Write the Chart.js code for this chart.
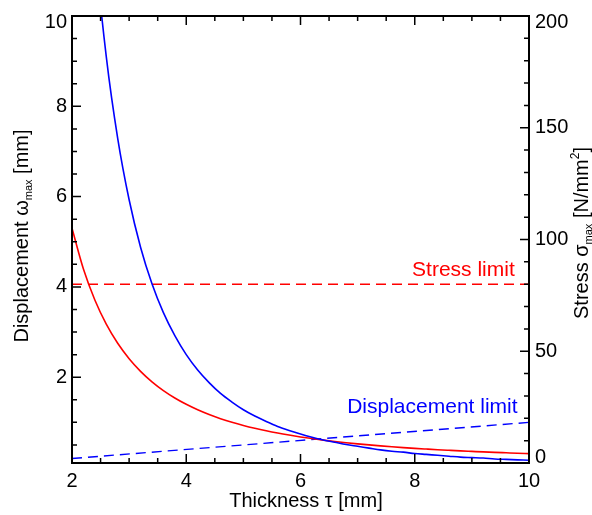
<!DOCTYPE html>
<html>
<head>
<meta charset="utf-8">
<script src="https://cdn.jsdelivr.net/npm/chart.js@4"></script>
<style>
  html, body { margin: 0; padding: 0; background: #fff; }
  #wrap { width: 592px; height: 515px; }
</style>
</head>
<body>
<div id="wrap"><canvas id="plateChart"></canvas></div>
<script>
// plate thickness [mm]
var tau = [2.0, 2.2, 2.4, 2.6, 2.8, 3.0, 3.2, 3.4, 3.6, 3.8,
           4.0, 4.2, 4.4, 4.6, 4.8, 5.0, 5.2, 5.4, 5.6, 5.8,
           6.0, 6.2, 6.4, 6.6, 6.8, 7.0, 7.2, 7.4, 7.6, 7.8,
           8.0, 8.2, 8.4, 8.6, 8.8, 9.0, 9.2, 9.4, 9.6, 9.8, 10.0];

// max displacement [mm]
var displacement = [20.0, 15.03, 11.57, 9.10, 7.29, 5.93, 4.88, 4.07, 3.43, 2.92,
                    2.50, 2.16, 1.88, 1.64, 1.45, 1.28, 1.14, 1.02, 0.91, 0.82,
                    0.74, 0.67, 0.61, 0.56, 0.51, 0.47, 0.43, 0.39, 0.36, 0.34,
                    0.31, 0.29, 0.27, 0.25, 0.23, 0.22, 0.21, 0.19, 0.18, 0.17, 0.16];

// max stress [N/mm2]
var stress = [105.0, 86.78, 72.92, 62.13, 53.57, 46.67, 41.02, 36.33, 32.41, 29.09,
              26.25, 23.81, 21.69, 19.85, 18.23, 16.80, 15.53, 14.40, 13.39, 12.49,
              11.67, 10.93, 10.25, 9.64, 9.08, 8.57, 8.10, 7.67, 7.27, 6.90,
              6.56, 6.25, 5.95, 5.68, 5.42, 5.19, 4.96, 4.75, 4.56, 4.37, 4.20];

// limits
var limitTau = [2, 10];
var stressLimit = [80, 80];
var dispLimit = [0.2, 1.0];

// axis ticks
var xTicks = [2, 4, 6, 8, 10];
var yTicks = [2, 4, 6, 8, 10];
var y2Ticks = [0, 50, 100, 150, 200];

var FONT = '"Liberation Sans", Helvetica, Arial, sans-serif';

function pts(xs, ys) {
    return xs.map(function (x, i) { return { x: x, y: ys[i] }; });
}

// draw a run of text pieces (sub/superscripts) centred on x
function drawPieces(ctx, pieces, x, y) {
    var total = 0;
    pieces.forEach(function (p) {
        ctx.font = p.size + 'px ' + FONT;
        p.w = ctx.measureText(p.t).width;
        total += p.w;
    });
    var cx = x - total / 2;
    ctx.textAlign = 'left';
    ctx.textBaseline = 'alphabetic';
    pieces.forEach(function (p) {
        ctx.font = p.size + 'px ' + FONT;
        ctx.fillText(p.t, cx, y + (p.dy || 0));
        cx += p.w;
    });
}

var framePlugin = {
    id: 'frame',
    afterDatasetsDraw: function (chart) {
        var ctx = chart.ctx;
        var a = chart.chartArea;
        var sx = chart.scales.x, sy = chart.scales.y, sy2 = chart.scales.y2;
        var v, p;
        ctx.save();
        ctx.strokeStyle = '#000';
        ctx.fillStyle = '#000';
        ctx.lineWidth = 2;
        ctx.strokeRect(a.left, a.top, a.right - a.left, a.bottom - a.top);

        ctx.lineWidth = 1.5;
        ctx.beginPath();
        // bottom and top ticks, every 0.5
        for (v = 2; v <= 10.001; v += 0.5) {
            p = sx.getPixelForValue(v);
            var len = (Math.abs(v % 2) < 0.01) ? 9 : 5;
            ctx.moveTo(p, a.bottom); ctx.lineTo(p, a.bottom - len);
            ctx.moveTo(p, a.top); ctx.lineTo(p, a.top + len);
        }
        // left ticks, every 0.5
        for (v = 0.5; v <= 10.001; v += 0.5) {
            p = sy.getPixelForValue(v);
            var l2 = (Math.abs(v % 2) < 0.01) ? 9 : 5;
            ctx.moveTo(a.left, p); ctx.lineTo(a.left + l2, p);
        }
        // right ticks, every 10
        for (v = 0; v <= 200; v += 10) {
            p = sy2.getPixelForValue(v);
            var l3 = (v % 50 === 0) ? 9 : 5;
            ctx.moveTo(a.right, p); ctx.lineTo(a.right - l3, p);
        }
        ctx.stroke();

        // tick labels
        ctx.font = '20px ' + FONT;
        ctx.textBaseline = 'middle';
        ctx.textAlign = 'center';
        xTicks.forEach(function (t) {
            ctx.fillText(String(t), sx.getPixelForValue(t), a.bottom + 18);
        });
        ctx.textAlign = 'right';
        yTicks.forEach(function (t) {
            p = Math.max(sy.getPixelForValue(t), a.top + 6);
            ctx.fillText(String(t), a.left - 5, p);
        });
        ctx.textAlign = 'left';
        y2Ticks.forEach(function (t) {
            p = sy2.getPixelForValue(t);
            p = Math.min(Math.max(p, a.top + 6), a.bottom - 6);
            ctx.fillText(String(t), a.right + 6, p);
        });

        // axis titles
        drawPieces(ctx, [{ t: 'Thickness \u03c4 [mm]', size: 20 }], 306, 507);

        ctx.save();
        ctx.translate(28, 236);
        ctx.rotate(-Math.PI / 2);
        drawPieces(ctx, [
            { t: 'Displacement \u03c9', size: 20 },
            { t: 'max', size: 11, dy: 4 },
            { t: ' [mm]', size: 20 }
        ], 0, 0);
        ctx.restore();

        ctx.save();
        ctx.translate(588, 233);
        ctx.rotate(-Math.PI / 2);
        drawPieces(ctx, [
            { t: 'Stress \u03c3', size: 20 },
            { t: 'max', size: 11, dy: 4 },
            { t: ' [N/mm', size: 20 },
            { t: '2', size: 12, dy: -9 },
            { t: ']', size: 20 }
        ], 0, 0);
        ctx.restore();

        // limit labels
        ctx.font = '21px ' + FONT;
        ctx.textAlign = 'right';
        ctx.textBaseline = 'alphabetic';
        ctx.fillStyle = '#ff0000';
        ctx.fillText('Stress limit', sx.getPixelForValue(9.75), sy2.getPixelForValue(stressLimit[1]) - 8);
        ctx.fillStyle = '#0000ff';
        ctx.fillText('Displacement limit', sx.getPixelForValue(9.8), sy.getPixelForValue(0.98) - 10);
        ctx.restore();
    }
};

var ctxPlate = document.getElementById('plateChart').getContext('2d');

var plateChart = new Chart(ctxPlate, {
    type: 'line',
    data: {
        datasets: [{
            label: 'Displacement',
            data: pts(tau, displacement),
            yAxisID: 'y',
            borderColor: '#0000ff',
            borderWidth: 1.6,
            cubicInterpolationMode: 'monotone'
        }, {
            label: 'Stress',
            data: pts(tau, stress),
            yAxisID: 'y2',
            borderColor: '#ff0000',
            borderWidth: 1.6,
            cubicInterpolationMode: 'monotone'
        }, {
            label: 'Stress limit',
            data: pts(limitTau, stressLimit),
            yAxisID: 'y2',
            borderColor: '#ff0000',
            borderWidth: 1.4,
            borderDash: [10, 6]
        }, {
            label: 'Displacement limit',
            data: pts(limitTau, dispLimit),
            yAxisID: 'y',
            borderColor: '#0000ff',
            borderWidth: 1.4,
            borderDash: [10, 6]
        }]
    },
    options: {
        responsive: true,
        maintainAspectRatio: false,
        animation: false,
        elements: { point: { radius: 0 } },
        layout: { padding: { left: 72, right: 63, top: 16, bottom: 52 } },
        scales: {
            x: { type: 'linear', min: 2, max: 10, display: false },
            y: { type: 'linear', min: 0.1, max: 10, display: false },
            y2: { type: 'linear', position: 'right', min: 0, max: 200, display: false }
        },
        plugins: {
            legend: { display: false },
            tooltip: { enabled: false }
        }
    },
    plugins: [framePlugin]
});
</script>
</body>
</html>
